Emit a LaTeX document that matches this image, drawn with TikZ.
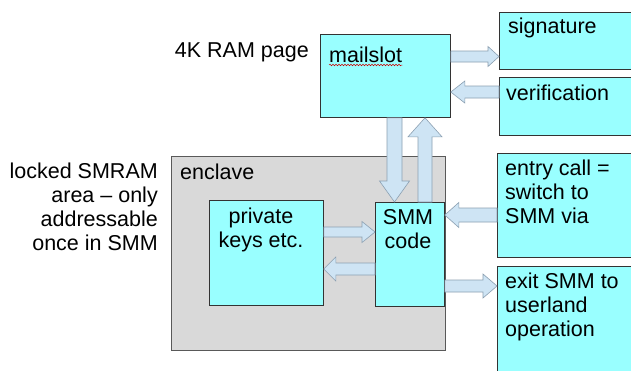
\documentclass[tikz,border=0pt]{standalone}
\usepackage{fontspec}
\setmainfont{Liberation Sans}
\usetikzlibrary{calc,decorations.pathmorphing}
\definecolor{boxcyan}{RGB}{153,255,255}
\definecolor{arrowfill}{RGB}{206,228,244}
\definecolor{arrowedge}{RGB}{140,160,178}
\definecolor{enclavegray}{RGB}{217,217,217}
\tikzstyle{box}     = [draw=black!80, fill=boxcyan, line width=0.8pt, inner sep=0pt, anchor=north west]
\tikzstyle{graybox} = [draw=black!65, fill=enclavegray, line width=0.8pt, inner sep=0pt, anchor=north west]
\tikzstyle{barrow}  = [draw=arrowedge, fill=arrowfill, line width=0.6pt, line join=miter]
\tikzstyle{txt}     = [inner sep=0pt, font=\fontsize{21.5}{24}\selectfont]
% block arrow: from, to, shaft half width, head half width, head length
\newcommand{\blockarr}[5]{%
  \path (#1) coordinate (ba s) (#2) coordinate (ba t);
  \path ($(ba t)!#5pt!(ba s)$) coordinate (ba h);
  \draw[barrow] ($(ba s)!#3pt!90:(ba t)$) -- ($(ba h)!#3pt!90:(ba t)$) -- ($(ba h)!#4pt!90:(ba t)$)
    -- (ba t) -- ($(ba h)!#4pt!-90:(ba t)$) -- ($(ba h)!#3pt!-90:(ba t)$) -- ($(ba s)!#3pt!-90:(ba t)$) -- cycle;
}
\begin{document}
\begin{tikzpicture}[x=1pt,y=-1pt]
    \clip (0,0) rectangle (631,370);
    \fill[white] (0,0) rectangle (631,370);
    % boxes
    \node[graybox, minimum width=274, minimum height=194] (enclave) at (171,156) {};
    \node[box, minimum width=130, minimum height=83]  (mailslot)     at (320,34)  {};
    \node[box, minimum width=150, minimum height=57]  (signature)    at (499,12)  {};
    \node[box, minimum width=150, minimum height=58]  (verification) at (499,77)  {};
    \node[box, minimum width=150, minimum height=104] (entry)        at (497,153) {};
    \node[box, minimum width=150, minimum height=120] (exit)         at (497,266) {};
    \node[box, minimum width=114, minimum height=105] (keys)         at (209,200) {};
    \node[box, minimum width=69,  minimum height=104] (smm)          at (375,202) {};
    % labels (multi-line ones sit on their last baseline)
    \node[txt, anchor=base east] (ram label) at (309,57) {4K RAM page};
    \node[txt, anchor=base east, align=right] (smram label) at (158,250)
      {locked SMRAM\\area -- only\\addressable\\once in SMM};
    \node[txt, anchor=base west] (mailslot text) at (329,62) {mailslot};
    \draw[red!80!black, line width=0.5pt, decorate, decoration={snake, amplitude=0.8pt, segment length=3pt}]
      ($(mailslot text.base west)+(0,3)$) -- ($(mailslot text.base east)+(0,3)$);
    \node[txt, anchor=base west] (signature text)    at (508,33)  {signature};
    \node[txt, anchor=base west] (verification text) at (506,100) {verification};
    \node[txt, anchor=base west, align=left] (entry text) at (505,223) {entry call =\\switch to\\SMM via};
    \node[txt, anchor=base west, align=left] (exit text)  at (505,336) {exit SMM to\\userland\\operation};
    \node[txt, anchor=base west] (enclave text) at (180,179) {enclave};
    \node[txt, anchor=base, align=center] (keys text) at (261,247) {private\\keys etc.};
    \node[txt, anchor=base, align=center] (smm text)  at (408,248) {SMM\\code};
    % arrows
    \blockarr{mailslot.east |- 0,56.5}{signature.west |- 0,56.5}{5.5}{10}{11}
    \blockarr{verification.west |- 0,92}{mailslot.east |- 0,92}{6}{11}{14}
    \blockarr{mailslot.south -| 394.5,0}{smm.north -| 394.5,0}{7.5}{15}{21}
    \blockarr{smm.north -| 425,0}{mailslot.south -| 425,0}{7}{17}{19}
    \blockarr{keys.east |- 0,232}{smm.west |- 0,232}{5}{10.5}{13}
    \blockarr{smm.west |- 0,269}{keys.east |- 0,269}{6}{12}{12}
    \blockarr{entry.west |- 0,215}{smm.east |- 0,215}{7}{12.5}{14}
    \blockarr{smm.east |- 0,286}{exit.west |- 0,286}{6}{12}{14}
\end{tikzpicture}
\end{document}
